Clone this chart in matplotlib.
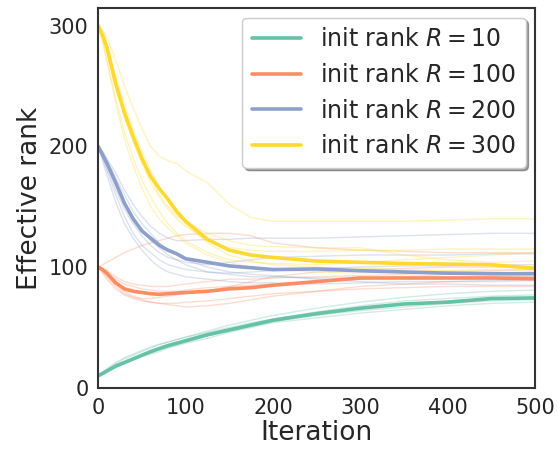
import numpy as np
import matplotlib
matplotlib.use('Agg')
import matplotlib.pyplot as plt
import seaborn as sns

sns.set_style('white')
plt.rcParams['font.family'] = ['DejaVu Sans']

iters = [0, 5, 10, 20, 30, 40, 50, 60, 70, 80, 90, 100, 125, 150, 175, 200, 250, 300, 350, 400, 450, 500]

ranks = [10, 100, 200, 300]
colors = ['#66c2a5', '#fc8d62', '#8da0cb', '#ffd92f']

# mean curves
mean_r10 = [10, 12, 14, 18, 21, 24, 27, 30, 32.5, 35, 37, 39, 44, 48, 52, 56, 61.5, 66, 69.5, 71, 74, 74.5]
mean_r100 = [100, 98, 95, 87, 82, 80, 79, 78, 77.5, 78, 78.5, 79, 80, 82, 83, 85, 88, 91, 91, 91, 91, 90.5]
mean_r200 = [200, 193, 186, 170, 153, 140, 130, 124, 118, 114, 111, 107, 104, 101, 99.5, 98, 98.5, 97, 96, 95, 94.5, 94.5]
mean_r300 = [300, 292, 282, 252, 228, 208, 190, 175, 165, 156, 146, 138, 123, 114, 110, 108, 105, 104, 103, 102.5, 102, 99]

# individual runs
runs_r10 = [
    [10, 12, 15, 20, 24, 27, 30, 33, 36, 38, 40, 42, 47, 52, 56, 60, 66, 71, 75, 78, 80, 81],
    [10, 11, 13, 17, 20, 23, 26, 28, 30, 33, 35, 37, 41, 46, 50, 54, 58, 62, 65, 68, 70, 71],
    [10, 12, 14, 19, 22, 25, 28, 31, 34, 36, 38, 40, 45, 49, 53, 57, 63, 68, 72, 74, 76, 77],
    [10, 11, 14, 18, 21, 24, 27, 29, 32, 34, 36, 38, 43, 47, 51, 55, 60, 64, 67, 70, 72, 73],
    [10, 13, 16, 21, 25, 28, 31, 34, 36, 38, 40, 42, 46, 50, 54, 57, 62, 66, 69, 72, 74, 75],
]
runs_r100 = [
    [100, 102, 104, 108, 112, 115, 118, 120, 122, 124, 126, 127, 128, 128, 126, 120, 116, 114, 113, 112, 112, 112],
    [100, 96, 92, 84, 78, 75, 74, 74, 75, 76, 77, 78, 80, 84, 88, 92, 96, 98, 99, 100, 100, 100],
    [100, 97, 93, 86, 80, 76, 73, 71, 70, 69, 68, 67, 68, 70, 73, 76, 80, 84, 86, 88, 88, 89],
    [100, 98, 95, 90, 86, 84, 82, 81, 80, 80, 80, 81, 83, 84, 85, 86, 88, 90, 92, 94, 95, 96],
    [100, 95, 90, 82, 77, 74, 72, 71, 70, 70, 70, 71, 72, 74, 76, 78, 80, 82, 83, 84, 84, 84],
    [100, 99, 97, 92, 88, 86, 85, 84, 84, 84, 85, 86, 88, 90, 90, 91, 92, 93, 94, 96, 97, 98],
]
runs_r200 = [
    [200, 196, 190, 178, 164, 152, 142, 134, 128, 124, 122, 122, 123, 123, 124, 124, 124, 125, 126, 127, 128, 128],
    [200, 192, 182, 164, 148, 136, 126, 118, 112, 108, 106, 104, 102, 104, 106, 108, 109, 110, 110, 110, 111, 111],
    [200, 190, 180, 160, 142, 128, 118, 112, 106, 102, 100, 98, 96, 95, 96, 97, 99, 100, 101, 101, 102, 102],
    [200, 194, 186, 168, 152, 140, 130, 122, 116, 110, 106, 102, 96, 94, 92, 92, 91, 91, 91, 92, 92, 92],
    [200, 188, 176, 154, 136, 124, 114, 106, 100, 96, 94, 92, 90, 88, 87, 87, 86, 87, 88, 88, 89, 89],
    [200, 195, 188, 174, 160, 146, 136, 128, 120, 114, 110, 106, 100, 96, 94, 93, 90, 88, 86, 86, 85, 85],
]
runs_r300 = [
    [300, 297, 290, 272, 250, 232, 215, 200, 192, 188, 186, 180, 170, 152, 141, 138, 138, 138, 138, 139, 140, 140],
    [300, 290, 278, 250, 224, 204, 186, 170, 158, 148, 140, 134, 122, 116, 114, 113, 113, 114, 114, 115, 115, 115],
    [300, 288, 272, 240, 212, 190, 172, 158, 146, 136, 128, 122, 112, 106, 104, 103, 102, 104, 106, 108, 110, 112],
    [300, 294, 284, 258, 236, 214, 196, 180, 166, 154, 144, 136, 120, 110, 105, 102, 100, 99, 98, 97, 96, 95],
    [300, 286, 270, 236, 206, 184, 166, 150, 140, 132, 126, 120, 110, 104, 100, 98, 96, 95, 96, 97, 98, 98],
    [300, 292, 280, 254, 230, 210, 192, 174, 160, 150, 142, 138, 128, 122, 118, 117, 116, 116, 110, 106, 104, 105],
]

means = [mean_r10, mean_r100, mean_r200, mean_r300]
runs = [runs_r10, runs_r100, runs_r200, runs_r300]

fig = plt.figure(figsize=(5.58, 4.5), dpi=100)
ax = fig.add_axes([0.176, 0.138, 0.783, 0.844])

for R, c, m, rr in zip(ranks, colors, means, runs):
    for r in rr:
        ax.plot(iters, r, color=c, lw=1, alpha=0.3)
for R, c, m in zip(ranks, colors, means):
    ax.plot(iters, m, color=c, lw=2.6, label='init rank $R = %d$' % R)

ax.set_xlim(0, 500)
ax.set_ylim(0, 314.5)
ax.set_xticks([0, 100, 200, 300, 400, 500])
ax.set_yticks([0, 100, 200, 300])
ax.tick_params(labelsize=15, colors='#262626')
ax.set_xlabel('Iteration', fontsize=19, color='#262626', labelpad=2)
ax.set_ylabel('Effective rank', fontsize=19, color='#262626')
for s in ax.spines.values():
    s.set_color('#333333')
    s.set_linewidth(1.5)

ax.legend(loc='upper right', fontsize=17, shadow=True, frameon=True,
          handlelength=2.1, handletextpad=0.8, labelspacing=0.5,
          borderaxespad=0.4)

fig.savefig('out.png', dpi=100)
